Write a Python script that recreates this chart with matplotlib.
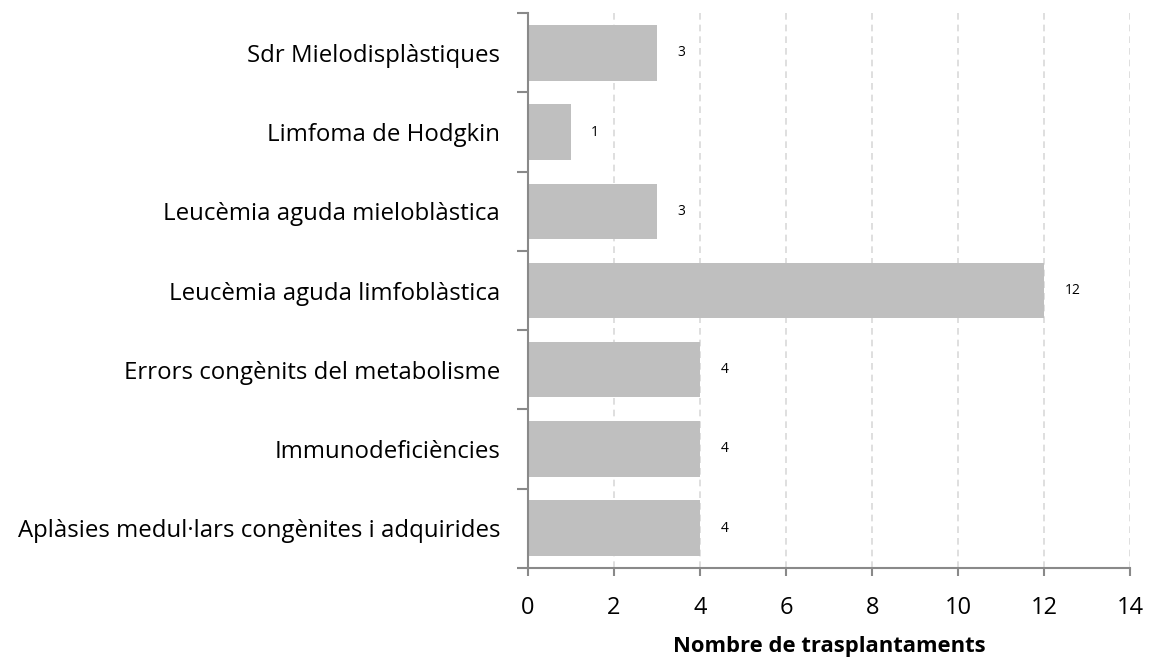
import matplotlib
matplotlib.use("Agg")
import matplotlib.pyplot as plt
import numpy as np

categories = [
    "Aplàsies medul·lars congènites i adquirides",
    "Immunodeficiències",
    "Errors congènits del metabolisme",
    "Leucèmia aguda limfoblàstica",
    "Leucèmia aguda mieloblàstica",
    "Limfoma de Hodgkin",
    "Sdr Mielodisplàstiques",
]
values = [4, 4, 4, 12, 3, 1, 3]
xticks = [0, 2, 4, 6, 8, 10, 12, 14]

plt.rcParams["font.family"] = ["Open Sans", "DejaVu Sans"]
AX_COLOR = "#898989"

fig = plt.figure(figsize=(11.5, 6.58), dpi=100)
ax = fig.add_axes([0.459, 0.137, 0.524, 0.843])

y = np.arange(len(categories))
ax.barh(y, values, height=0.7, color="#bfbfbf", zorder=2)
for yi, v in zip(y, values):
    ax.text(v + 0.47, yi, str(v), va="center", ha="left", fontsize=10, color="#000000")

ax.set_xlim(0, 14)
ax.set_ylim(-0.5, len(categories) - 0.5)
ax.set_xticks(xticks)
ax.set_xticklabels([str(t) for t in xticks], fontsize=17)
ax.set_yticks(y)
ax.set_yticklabels(categories, fontsize=17.3)
ax.set_yticks(np.arange(-0.5, len(categories), 1.0), minor=True)

ax.tick_params(axis="y", which="major", length=0, pad=20)
ax.tick_params(axis="y", which="minor", length=8, width=1.5, color=AX_COLOR, direction="out")
ax.tick_params(axis="x", length=6, width=1.5, color=AX_COLOR, direction="out", pad=14)

ax.xaxis.grid(True, color="#d9d9d9", linestyle=(0, (4, 3)), linewidth=1.2, zorder=0)
ax.set_axisbelow(True)

for s in ["top", "right"]:
    ax.spines[s].set_visible(False)
for s in ["left", "bottom"]:
    ax.spines[s].set_color(AX_COLOR)
    ax.spines[s].set_linewidth(1.5)

ax.set_xlabel("Nombre de trasplantaments", fontsize=15.8, fontweight="bold", labelpad=12)

fig.savefig("out.png", dpi=100)
